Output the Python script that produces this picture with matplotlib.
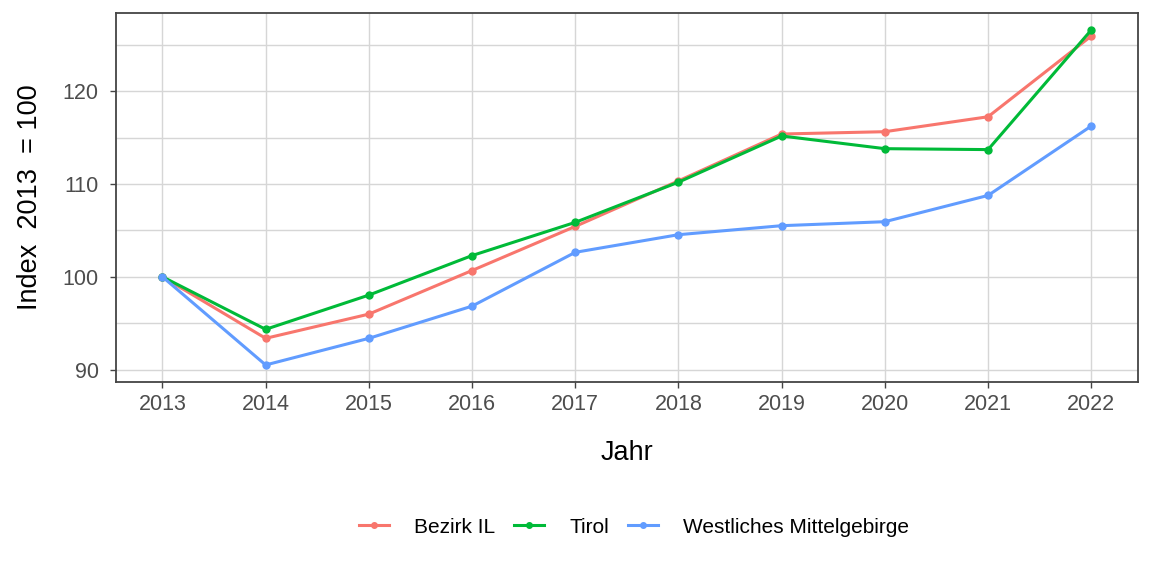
import matplotlib
matplotlib.use("Agg")
import matplotlib.pyplot as plt
from matplotlib.ticker import MultipleLocator

plt.rcParams['font.family'] = ['Liberation Sans', 'DejaVu Sans']

years = [2013, 2014, 2015, 2016, 2017, 2018, 2019, 2020, 2021, 2022]
bezirk_il = [100, 93.37, 95.98, 100.68, 105.43, 110.34, 115.39, 115.64, 117.25, 125.95]
tirol = [100, 94.34, 98.03, 102.29, 105.87, 110.20, 115.18, 113.81, 113.71, 126.60]
westliches = [100, 90.50, 93.37, 96.84, 102.64, 104.54, 105.51, 105.94, 108.77, 116.25]

series_names = ["Bezirk IL", "Tirol", "Westliches Mittelgebirge"]
series_values = [bezirk_il, tirol, westliches]
colors = ["#F8766D", "#00BA38", "#619CFF"]

fig = plt.figure(figsize=(11.52, 5.76), dpi=100)
ax = fig.add_axes([0.1007, 0.3373, 0.8869, 0.6397])

for name, vals, c in zip(series_names, series_values, colors):
    ax.plot(years, vals, color=c, linewidth=2.2, marker='o', markersize=5,
            label=name, zorder=3)

ymin = min(min(v) for v in series_values)
ymax = max(max(v) for v in series_values)
yr = ymax - ymin
ax.set_ylim(ymin - 0.05 * yr, ymax + 0.05 * yr)
xr = years[-1] - years[0]
ax.set_xlim(years[0] - 0.05 * xr, years[-1] + 0.05 * xr)

ax.set_xticks(years)
ax.set_xticklabels([str(y) for y in years])
ax.yaxis.set_major_locator(MultipleLocator(10))
ax.yaxis.set_minor_locator(MultipleLocator(5))

ax.grid(True, which='major', color='#d6d6d6', linewidth=1.0, zorder=0)
ax.grid(True, which='minor', axis='y', color='#d6d6d6', linewidth=1.0, zorder=0)
ax.set_axisbelow(True)

for s in ax.spines.values():
    s.set_color('#444444')
    s.set_linewidth(1.3)

ax.tick_params(axis='both', which='major', labelsize=15.5, colors='#444444',
               length=4.5, width=1.0, labelcolor='#4D4D4D')
ax.tick_params(axis='x', which='major', pad=4)
ax.tick_params(axis='y', which='major', pad=8)
ax.tick_params(axis='y', which='minor', length=0)

ax.set_xlabel("Jahr", fontsize=19.5, labelpad=18, color='black')
ax.set_ylabel("Index  2013  = 100", fontsize=19.5, labelpad=14, color='black')

leg = fig.legend(loc='center', bbox_to_anchor=(0.5503, 0.085), ncol=3,
                 frameon=False, fontsize=15, handlelength=1.45,
                 columnspacing=0.9, handletextpad=1.2, markerscale=0.8)

fig.savefig("out.png", dpi=100)
